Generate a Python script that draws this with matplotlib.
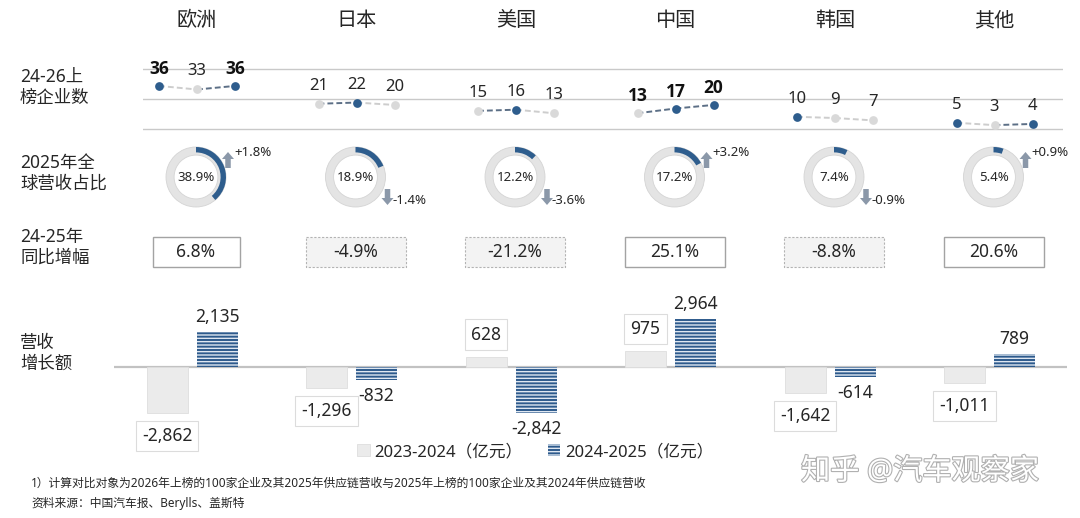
import matplotlib
matplotlib.use('Agg')
import matplotlib.pyplot as plt
from matplotlib.patches import Rectangle, FancyArrow
import matplotlib.patheffects as pe

plt.rcParams['font.family'] = ['Noto Sans', 'Noto Sans CJK SC', 'DejaVu Sans']
plt.rcParams['hatch.linewidth'] = 1.0

# ---------------- data ----------------
regions = ['欧洲', '日本', '美国', '中国', '韩国', '其他']
count_2024 = [36, 21, 15, 13, 10, 5]
count_2025 = [33, 22, 16, 17, 9, 3]
count_2026 = [36, 20, 13, 20, 7, 4]
highlight_2024 = [1, 0, 0, 0, 1, 1]
highlight_2025 = [0, 1, 1, 1, 0, 0]
highlight_2026 = [1, 0, 0, 1, 0, 1]
bold_2024 = [1, 0, 0, 1, 0, 0]
bold_2025 = [0, 0, 0, 1, 0, 0]
bold_2026 = [1, 0, 0, 1, 0, 0]
share_2025 = [38.9, 18.9, 12.2, 17.2, 7.4, 5.4]
share_change = [1.8, -1.4, -3.6, 3.2, -0.9, 0.9]
yoy_growth = [6.8, -4.9, -21.2, 25.1, -8.8, 20.6]
rev_2324 = [-2862, -1296, 628, 975, -1642, -1011]
rev_2425 = [2135, -832, -2842, 2964, -614, 789]
legend_labels = ['2023-2024（亿元）', '2024-2025（亿元）']
row_labels = ['24-26上\n榜企业数', '2025年全\n球营收占比', '24-25年\n同比增幅', '营收\n增长额']
footnotes = ['1）计算对比对象为2026年上榜的100家企业及其2025年供应链营收与2025年上榜的100家企业及其2024年供应链营收',
             '资料来源：中国汽车报、Berylls、盖斯特']
watermark = '知乎 @汽车观察家'

# ---------------- style ----------------
BLUE = '#2e5d8d'
LGRAY = '#d9d9d9'
TXT = '#262626'
W, H = 1080, 518

fig = plt.figure(figsize=(W / 100, H / 100), dpi=100)


def px_axes(x0, y0, x1, y1):
    return fig.add_axes([x0 / W, 1 - y1 / H, (x1 - x0) / W, (y1 - y0) / H])


col_x = [197 + 159.5 * i for i in range(len(regions))]

# ---------------- row 1: line chart of counts ----------------
axl = px_axes(143, 55, 1063, 145)
zero_px, s = 128.7, 1.188
axl.set_xlim(143, 1063)
axl.set_ylim(-(145 - zero_px) / s, (zero_px - 55) / s)
axl.set_yticks([0, 25, 50])
axl.grid(axis='y', color='#c9c9c9', lw=1)
axl.tick_params(left=False, bottom=False, labelleft=False, labelbottom=False)
for sp in axl.spines.values():
    sp.set_visible(False)
axl.patch.set_alpha(0)
offs = [-38, 0, 38]
for i in range(len(regions)):
    vals = [count_2024[i], count_2025[i], count_2026[i]]
    hls = [highlight_2024[i], highlight_2025[i], highlight_2026[i]]
    bds = [bold_2024[i], bold_2025[i], bold_2026[i]]
    xs = [col_x[i] + o for o in offs]
    for k in range(2):
        up = vals[k + 1] > vals[k]
        axl.plot(xs[k:k + 2], vals[k:k + 2], ls=(0, (3, 1.6)), lw=1.4,
                 color='#5c6f86' if up else '#cdcdcd', zorder=2)
    for k in range(3):
        axl.plot(xs[k], vals[k], 'o', ms=6.3, mec='none',
                 color=BLUE if hls[k] else LGRAY, zorder=3)
        if bds[k]:
            axl.annotate(str(vals[k]), (xs[k], vals[k]), xytext=(0, 17),
                         textcoords='offset pixels', ha='center', va='center',
                         fontsize=12.5, fontweight='bold', color='#111111',
                         family=['Open Sans', 'DejaVu Sans'])
        else:
            axl.annotate(str(vals[k]), (xs[k], vals[k]), xytext=(0, 18),
                         textcoords='offset pixels', ha='center', va='center',
                         fontsize=12, color=TXT)

# ---------------- row 4: bars ----------------
axb = px_axes(114, 280, 1067, 470)
zero_b, sb = 366.7, 0.0162
axb.set_xlim(114, 1067)
axb.set_ylim(-(470 - zero_b) / sb, (zero_b - 280) / sb)
axb.axis('off')
gx = [c - 30 for c in col_x]
bx = [c + 20 for c in col_x]
b1 = axb.bar(gx, rev_2324, width=41, color='#ebebeb', edgecolor='#dedede',
             lw=0.6, label=legend_labels[0], zorder=2)
b2 = axb.bar(bx, rev_2425, width=41, color='#2d5a8c', edgecolor='#dfe7f1',
             lw=0, hatch='-----', label=legend_labels[1], zorder=2)
axb.axhline(0, color='#c2c2c2', lw=1.6, zorder=1)
for x, v in zip(gx, rev_2324):
    axb.annotate(f'{v:,}', (x, v), xytext=(0, 22 if v > 0 else -23),
                 textcoords='offset pixels', ha='center', va='center',
                 fontsize=12.5, color=TXT,
                 bbox=dict(boxstyle='square,pad=0.35', fc='white',
                           ec='#dcdcdc', lw=0.8))
for x, v in zip(bx, rev_2425):
    axb.annotate(f'{v:,}', (x, v), xytext=(0, 15 if v > 0 else -16),
                 textcoords='offset pixels', ha='center', va='center',
                 fontsize=12.5, color=TXT)
axb.legend(handles=[b1, b2], loc='center left',
           bbox_to_anchor=(357 / W, 1 - 452 / H), bbox_transform=fig.transFigure,
           ncol=2, frameon=False, fontsize=12, handlelength=0.75,
           handleheight=0.75, handletextpad=0.3, columnspacing=1.5,
           borderpad=0, borderaxespad=0, labelcolor=TXT)

# ---------------- overlay (pixel coordinates) ----------------
axo = fig.add_axes([0, 0, 1, 1], zorder=5)
axo.set_xlim(0, W)
axo.set_ylim(H, 0)
axo.axis('off')
axo.patch.set_alpha(0)

for i, r in enumerate(regions):
    axo.text(col_x[i], 21, r, ha='center', va='center', fontsize=14.5, color=TXT)

for lab, y in zip(row_labels, [87.5, 173, 247.5, 353.5]):
    axo.text(20, y, lab, ha='left', va='center', fontsize=12.5,
             color=TXT, linespacing=1.2)

# ---------------- row 2: donuts ----------------
cy = 177
for i in range(len(regions)):
    cx = col_x[i] - 1
    axp = px_axes(cx - 33, cy - 33, cx + 33, cy + 33)
    axp.pie([100], colors=['#e4e4e4'], radius=1,
            wedgeprops=dict(width=0.27, edgecolor='#d4d4d4', linewidth=0.6))
    axp.pie([share_2025[i], 100 - share_2025[i]], colors=[BLUE, 'none'],
            startangle=90, counterclock=False, radius=1,
            wedgeprops=dict(width=0.18, linewidth=0))
    axp.set_xlim(-33 / 30, 33 / 30)
    axp.set_ylim(-33 / 30, 33 / 30)
    axp.set_aspect('equal')
    axp.axis('off')
    axp.text(0, 0, f'{share_2025[i]}%', ha='center', va='center',
             fontsize=9.5, color=TXT)
    ax_x = cx + 32
    c = share_change[i]
    if c > 0:
        axo.add_patch(FancyArrow(ax_x, 168, 0, -16, width=5.5, head_width=12,
                                 head_length=7, length_includes_head=True,
                                 color='#8b98a9', lw=0))
        axo.text(ax_x + 6, 153, f'+{c}%', ha='left', va='center',
                 fontsize=9.5, color=TXT)
    else:
        axo.add_patch(FancyArrow(ax_x, 189, 0, 16, width=5.5, head_width=12,
                                 head_length=7, length_includes_head=True,
                                 color='#8b98a9', lw=0))
        axo.text(ax_x + 5, 201, f'{c}%', ha='left', va='center',
                 fontsize=9.5, color=TXT)

# ---------------- row 3: YoY boxes ----------------
box_w = [87, 100, 100, 100, 100, 100]
for i, v in enumerate(yoy_growth):
    bxc = col_x[i] - 1
    if v >= 0:
        rect = Rectangle((bxc - box_w[i] / 2, 237), box_w[i], 30, fc='white',
                         ec='#a3a3a3', lw=1.0)
    else:
        rect = Rectangle((bxc - box_w[i] / 2, 237), box_w[i], 30, fc='#f3f3f3',
                         ec='#b3b3b3', lw=0.8, ls=(0, (2, 1.5)))
    axo.add_patch(rect)
    axo.text(bxc, 252, f'{v}%', ha='center', va='center', fontsize=12.5, color=TXT)

# ---------------- footnotes & watermark ----------------
axo.text(31, 483, footnotes[0], ha='left', va='center', fontsize=8.5, color=TXT)
axo.text(31, 503, footnotes[1], ha='left', va='center', fontsize=8.5, color=TXT)
axo.text(920, 472, watermark, ha='center', va='center', fontsize=21,
         color='white',
         path_effects=[pe.withStroke(linewidth=1.6, foreground='#b0b0b0')])

fig.savefig('out.png', dpi=100)
